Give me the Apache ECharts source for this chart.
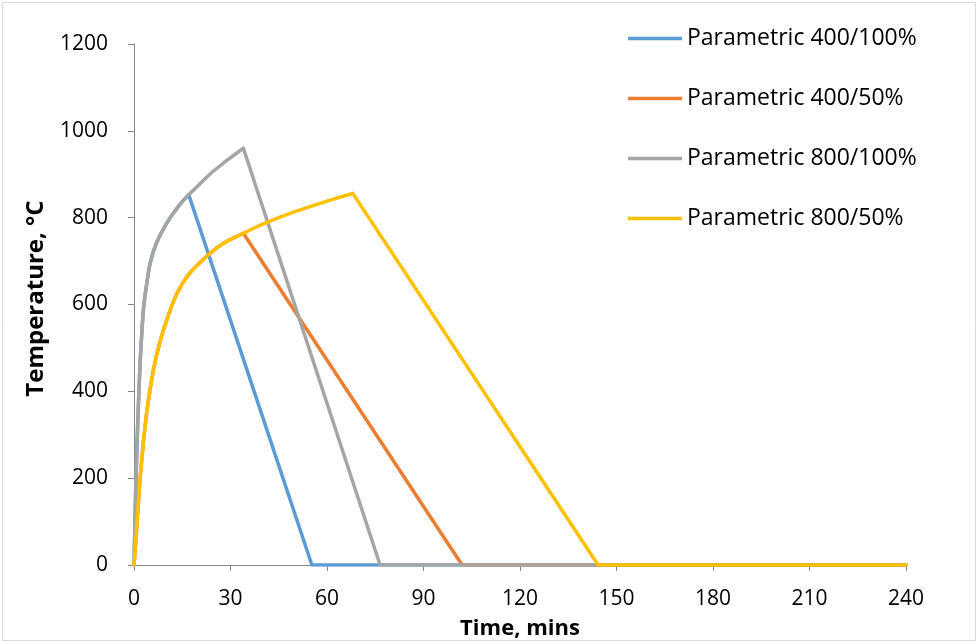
<!DOCTYPE html>
<html>
<head>
<meta charset="utf-8">
<script src="https://cdn.jsdelivr.net/npm/echarts@6/dist/echarts.min.js"></script>
<style>
  html, body { margin: 0; padding: 0; background: #fff; }
  #chart { width: 979px; height: 644px; }
</style>
</head>
<body>
<div id="chart"></div>
<script>
  // values (time in mins, temperature in °C)
  var names = ['Parametric 400/100%', 'Parametric 400/50%', 'Parametric 800/100%', 'Parametric 800/50%'];
  var colors = ['#5B9BD5', '#ED7D31', '#A5A5A5', '#FFC000'];

  var time400_100 = [0, 0.25, 0.5, 0.75, 1, 1.25, 1.5, 1.75, 2, 2.5, 3, 3.5, 4, 4.5, 5, 6, 7, 8, 9, 10, 11, 12, 13, 14, 15, 16, 17, 55.3, 240];
  var temp400_100 = [0, 80, 165, 230, 290, 345, 395, 440, 480, 545, 595, 625, 650, 675, 695, 722, 742, 758, 772, 785, 797, 808, 818, 828, 837, 845, 853, 0, 0];

  var time400_50 = [0, 0.5, 1, 1.5, 2, 3, 4, 5, 6, 7, 8, 9, 10, 11, 12, 13, 14, 15, 16, 17, 18, 20, 22, 24, 26, 28, 30, 32, 34, 102, 240];
  var temp400_50 = [0, 50, 105, 160, 210, 290, 355, 405, 448, 483, 512, 538, 560, 582, 602, 620, 635, 648, 659, 669, 678, 693, 707, 720, 732, 742, 750, 757, 764, 0, 0];

  var time800_100 = [0, 0.25, 0.5, 0.75, 1, 1.25, 1.5, 1.75, 2, 2.5, 3, 3.5, 4, 4.5, 5, 6, 7, 8, 9, 10, 11, 12, 13, 14, 15, 16, 17, 18, 20, 22, 24, 26, 28, 30, 32, 34, 76.5, 240];
  var temp800_100 = [0, 80, 165, 230, 290, 345, 395, 440, 480, 545, 595, 625, 650, 675, 695, 722, 742, 758, 772, 785, 797, 808, 818, 828, 837, 845, 853, 860, 874, 889, 903, 915, 927, 938, 949, 960, 0, 0];

  var time800_50 = [0, 0.5, 1, 1.5, 2, 3, 4, 5, 6, 7, 8, 9, 10, 11, 12, 13, 14, 15, 16, 17, 18, 20, 22, 24, 26, 28, 30, 32, 34, 37, 40, 45, 50, 55, 60, 64, 68, 144.3, 240];
  var temp800_50 = [0, 50, 105, 160, 210, 290, 355, 405, 448, 483, 512, 538, 560, 582, 602, 620, 635, 648, 659, 669, 678, 693, 707, 720, 732, 742, 750, 757, 764, 775, 785, 800, 814, 826, 838, 847, 856, 0, 0];

  var xTicks = [0, 30, 60, 90, 120, 150, 180, 210, 240];
  var yTicks = [0, 200, 400, 600, 800, 1000, 1200];

  function pairs(t, v) {
    return t.map(function (x, i) { return [x, v[i]]; });
  }

  var seriesData = [
    pairs(time400_100, temp400_100),
    pairs(time400_50, temp400_50),
    pairs(time800_100, temp800_100),
    pairs(time800_50, temp800_50)
  ];

  var font = '"Open Sans", "Liberation Sans", sans-serif';
  var axisGray = '#868686';

  var chart = echarts.init(document.getElementById('chart'));
  var option = {
    animation: false,
    color: colors,
    textStyle: { fontFamily: font },
    grid: { left: 134, right: 73, top: 44, bottom: 79, containLabel: false, outerBoundsMode: 'none' },
    graphic: [{
      type: 'rect',
      shape: { x: 2.5, y: 2.5, width: 973, height: 638 },
      style: { fill: 'none', stroke: '#d9d9d9', lineWidth: 1 },
      silent: true
    }],
    legend: {
      orient: 'vertical',
      left: 623,
      top: 22,
      itemWidth: 54,
      itemHeight: 22,
      itemGap: 37,
      icon: 'path://M0,0 L54,0 L54,3.5 L0,3.5 Z',
      textStyle: { fontFamily: font, fontSize: 23, color: '#000' },
      data: names
    },
    xAxis: {
      type: 'value',
      min: xTicks[0],
      max: xTicks[xTicks.length - 1],
      interval: 30,
      name: 'Time, mins',
      nameLocation: 'middle',
      nameGap: 53,
      nameTextStyle: { fontFamily: font, fontSize: 22, fontWeight: 'bold', color: '#000' },
      axisLine: { show: true, lineStyle: { color: axisGray, width: 1 } },
      axisTick: { show: true, length: 6, lineStyle: { color: axisGray } },
      axisLabel: { fontFamily: font, fontSize: 21, color: '#000', margin: 24 },
      splitLine: { show: false }
    },
    yAxis: {
      type: 'value',
      min: yTicks[0],
      max: yTicks[yTicks.length - 1],
      interval: 200,
      name: 'Temperature, °C',
      nameLocation: 'middle',
      nameRotate: 90,
      nameGap: 86,
      nameTextStyle: { fontFamily: font, fontSize: 24, fontWeight: 'bold', color: '#000', padding: [0, 0, 0, 12] },
      axisLine: { show: true, lineStyle: { color: axisGray, width: 1 } },
      axisTick: { show: true, length: 6, lineStyle: { color: axisGray } },
      axisLabel: {
        fontFamily: font, fontSize: 21, color: '#000', margin: 26,
        formatter: function (v) { return String(v); }
      },
      splitLine: { show: false }
    },
    series: names.map(function (n, i) {
      return {
        name: n,
        type: 'line',
        data: seriesData[i],
        symbol: 'none',
        smooth: false,
        lineStyle: { width: 3.5, color: colors[i], join: 'round', cap: 'round' },
        itemStyle: { color: colors[i] }
      };
    })
  };
  option && chart.setOption(option);
</script>
</body>
</html>
